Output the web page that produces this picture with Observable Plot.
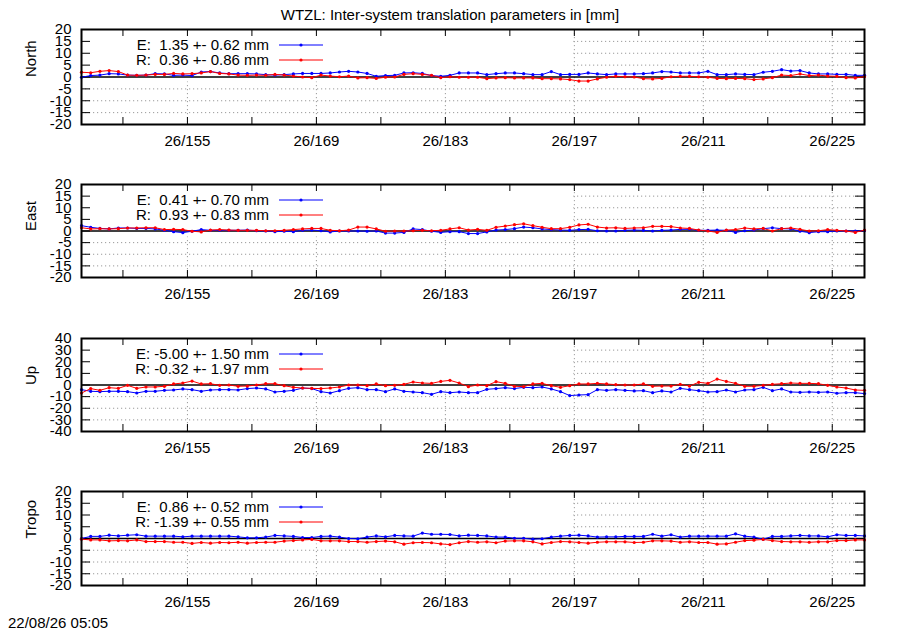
<!DOCTYPE html>
<html><head><meta charset="utf-8">
<script src="https://cdn.jsdelivr.net/npm/d3@7"></script>
<script src="https://cdn.jsdelivr.net/npm/@observablehq/plot@0.6"></script>
<style>
body{margin:0;background:#fff;font-family:"Liberation Sans",Arial,sans-serif;}
#wrap{position:relative;width:900px;height:630px;overflow:hidden;background:#fff;}
#wrap svg{position:absolute;left:0;}
#title{position:absolute;top:6px;left:0;width:900px;text-align:center;font-size:15px;line-height:17px;}
#stamp{position:absolute;left:8px;top:614px;font-size:15px;line-height:17px;}
</style></head><body>
<div id="wrap"><div id="title">WTZL: Inter-system translation parameters in [mm]</div><div id="stamp">22/08/26 05:05</div></div>
<script>
// day of year (2026), daily solutions at noon
const days = [143.5,144.5,145.5,146.5,147.5,148.5,149.5,150.5,151.5,152.5,153.5,154.5,155.5,156.5,157.5,158.5,159.5,160.5,161.5,162.5,163.5,164.5,165.5,166.5,167.5,168.5,169.5,170.5,171.5,172.5,173.5,174.5,175.5,176.5,177.5,178.5,179.5,180.5,181.5,182.5,183.5,184.5,185.5,186.5,187.5,188.5,189.5,190.5,191.5,192.5,193.5,194.5,195.5,196.5,197.5,198.5,199.5,200.5,201.5,202.5,203.5,204.5,205.5,206.5,207.5,208.5,209.5,210.5,211.5,212.5,213.5,214.5,215.5,216.5,217.5,218.5,219.5,220.5,221.5,222.5,223.5,224.5,225.5,226.5,227.5,228.5];
const xDomain = [143.5, 228.5];
const xTicks = [148,155,162,169,176,183,190,197,204,211,218,225];
const xLabelTicks = [155,169,183,197,211,225];
const yTicks20 = [-20,-15,-10,-5,0,5,10,15,20];
const yTicks40 = [-40,-30,-20,-10,0,10,20,30,40];

const panelNames = ["North","East","Up","Tropo"];

const northE = [-0.1,0.6,0.8,1.4,1.3,0.8,0.7,0.8,1.4,1.3,0.7,0.8,0.6,2.1,2.3,1.7,1.4,1.4,1.4,1.3,1.0,0.8,1.0,1.3,1.5,1.5,1.5,1.7,2.1,2.4,2.1,1.5,0.3,0.6,0.7,1.7,1.8,1.5,0.6,
 0.3,0.7,1.7,1.7,1.7,1.0,1.4,1.7,1.7,1.4,1.0,1.0,2.3,1.0,1.1,1.1,1.7,1.3,1.0,1.3,1.3,1.3,1.4,1.7,2.3,2.1,1.7,1.7,1.7,2.4,1.0,1.0,1.3,1.1,1.0,2.0,2.4,3.1,2.5,2.7,1.7,1.3,1.3,1.1,1.1,0.7,0.7];
const northR = [2.0,1.8,2.4,2.7,2.3,0.8,0.7,0.8,1.1,1.1,1.5,1.3,1.4,1.7,2.3,1.5,1.3,0.8,0.7,0.8,0.7,1.1,0.8,0.4,0.0,-0.3,0.8,0.4,0.1,0.4,-0.4,-0.3,-0.6,-0.1,0.0,1.1,1.4,1.1,0.7,
 -0.3,0.1,-0.1,-0.1,-0.1,-0.7,-0.4,-0.3,-0.4,-0.4,-0.4,-0.7,-0.7,-0.8,-1.1,-1.7,-1.7,-0.8,-0.1,0.3,0.1,0.0,-0.7,-0.8,-0.6,0.1,0.3,0.3,0.1,-0.1,-0.6,-0.7,-0.6,-0.7,-1.1,-0.8,-0.3,0.8,0.6,1.3,0.6,0.8,0.4,0.3,-0.3,-0.4,0.1];
const eastE = [2.3,1.6,1.1,0.9,1.3,1.3,1.1,1.1,0.9,0.3,-0.3,-0.7,-0.1,0.6,0.3,0.3,0.3,0.3,0.4,0.1,0.0,-0.3,-0.1,-0.3,0.3,0.4,0.1,-0.4,0.0,0.0,0.0,-0.1,0.0,-0.9,-0.9,-0.6,0.9,0.6,-0.1,
 -0.6,-0.3,-0.3,-1.1,-1.1,-0.4,0.4,0.6,1.0,1.7,1.4,0.9,0.6,0.4,0.3,0.6,0.7,0.1,0.0,0.0,0.3,0.4,0.3,0.0,0.3,0.4,0.7,0.7,0.3,0.3,0.4,0.3,-0.6,0.1,0.4,1.0,1.4,1.0,0.9,-0.1,-0.7,-0.3,-0.3,0.0,0.0,0.0,0.1];
const eastR = [1.4,0.9,1.0,0.9,1.0,1.3,1.3,1.4,1.4,0.6,0.7,0.6,-0.1,-0.4,0.4,0.6,0.4,0.3,0.3,0.3,0.1,0.1,0.3,0.6,0.9,1.1,1.1,0.3,0.1,0.4,1.7,1.7,0.9,-0.1,0.0,0.0,0.1,0.3,0.1,
 0.3,0.9,1.4,0.4,0.7,0.3,1.6,2.1,2.7,3.1,2.3,1.6,1.0,1.0,1.6,2.6,2.9,1.7,1.3,1.4,1.1,1.3,1.4,2.0,2.0,1.9,1.3,1.1,0.4,0.0,-0.6,0.4,0.6,1.3,0.9,1.1,0.0,1.0,1.3,0.7,0.0,0.1,0.6,0.3,0.0,-0.6,0.4];
const upE = [-4.0,-5.4,-5.7,-5.4,-5.4,-5.7,-6.9,-5.4,-5.4,-4.6,-4.3,-3.4,-4.0,-5.4,-4.3,-4.0,-4.0,-4.3,-3.1,-2.6,-3.4,-6.0,-5.4,-4.6,-2.6,-3.1,-5.7,-6.9,-4.9,-2.9,-2.3,-4.0,-4.0,-5.7,-3.4,-5.4,-6.0,-6.6,-8.0,
 -5.7,-6.6,-6.0,-6.6,-6.6,-3.7,-3.1,-2.3,-3.1,-2.0,-2.3,-1.7,-3.4,-5.7,-9.1,-8.6,-8.3,-4.0,-4.6,-4.0,-4.6,-5.1,-4.9,-6.6,-5.1,-6.0,-2.9,-4.0,-4.9,-6.0,-5.7,-4.3,-6.0,-4.3,-4.0,-2.0,-4.9,-3.4,-6.0,-6.3,-6.0,-6.3,-6.0,-7.1,-6.6,-6.6,-7.4];
const upR = [-6.9,-3.1,-4.6,-2.3,-2.9,-0.3,-2.9,-1.7,-1.7,-1.1,0.9,1.7,3.4,0.9,1.1,-0.3,0.0,-1.1,-0.9,0.0,1.1,1.1,-0.6,-2.0,-2.6,-2.9,-3.1,-2.6,-1.7,0.0,0.0,-0.6,0.9,-0.6,-0.3,0.6,2.6,1.7,1.4,
 3.1,4.0,1.7,-1.4,0.0,-0.6,2.9,1.4,-1.1,-1.4,0.9,1.4,-0.6,-2.0,-0.6,0.9,0.9,1.4,0.9,0.3,0.0,0.0,0.9,-1.1,-0.9,-0.9,0.6,-0.9,2.3,1.4,5.1,3.1,1.4,-1.1,-1.1,-0.3,0.6,1.1,1.7,1.4,1.4,1.1,-0.3,-1.7,-2.6,-4.3,-4.6];
const tropoE = [0.0,0.9,0.9,1.4,1.1,1.4,1.6,1.0,1.0,1.0,1.0,0.7,1.0,1.0,1.0,1.0,1.0,0.7,0.3,0.3,0.6,1.3,1.1,0.9,0.4,0.4,0.9,1.0,0.6,0.0,-0.1,0.6,1.1,0.7,1.3,1.1,1.0,2.3,1.8,
 1.8,1.7,1.1,1.4,1.3,1.1,0.6,0.6,0.1,0.1,-0.3,-0.1,0.6,1.0,1.3,1.4,1.1,0.6,0.7,0.7,0.9,0.9,0.9,1.8,1.0,1.6,0.6,1.0,1.0,1.0,1.0,1.0,2.0,1.0,0.6,-0.3,0.9,0.9,1.1,1.3,1.1,1.1,0.7,1.6,1.3,1.3,1.1];
const tropoR = [-0.3,-0.6,-0.6,-1.0,-0.9,-1.0,-0.6,-1.3,-1.3,-1.3,-1.6,-1.6,-2.1,-1.7,-2.0,-1.7,-1.8,-1.6,-2.0,-1.7,-1.6,-1.6,-1.1,-0.9,-0.6,-0.4,-1.0,-1.0,-1.0,-1.3,-1.3,-1.6,-1.3,-1.1,-1.4,-2.4,-1.8,-1.7,-1.8,
 -2.3,-2.6,-1.8,-1.3,-1.6,-1.4,-1.8,-1.1,-1.0,-1.0,-1.4,-2.3,-1.7,-1.3,-1.4,-1.7,-2.0,-1.6,-1.4,-1.4,-1.4,-1.7,-1.6,-1.0,-1.0,-1.1,-1.6,-1.4,-1.7,-1.7,-2.4,-2.3,-1.6,-0.9,-0.7,-0.4,-0.9,-1.3,-1.4,-1.4,-1.6,-1.4,-1.4,-0.9,-0.9,-0.6,-0.6];

// legend statistics (mean +- sigma, mm)
const meanE = [1.35, 0.41, -5.00, 0.86];
const sigE  = [0.62, 0.70, 1.50, 0.52];
const meanR = [0.36, 0.93, -0.32, -1.39];
const sigR  = [0.86, 0.83, 1.97, 0.55];

const seriesE = [northE, eastE, upE, tropoE];
const seriesR = [northR, eastR, upR, tropoR];
const yTickSets = [yTicks20, yTicks20, yTicks40, yTicks20];

// layout (pixels)
const plotTops = [29, 184, 338, 491];
const plotHeights = [95, 93, 93, 94];
const ML = 81, MR = 36, MT = 20, MB = 30, WIDTH = 900;
const BLUE = "#0000ff", RED = "#ff0000";

const fmt = (lab, m, s) => `${lab}: ${m < 0 ? "" : " "}${m.toFixed(2)} +- ${s.toFixed(2)} mm`;

const wrap = document.getElementById("wrap");

for (let i = 0; i < 4; i++) {
  const H = plotHeights[i];
  const yt = yTickSets[i];
  const yl = yt[yt.length - 1];
  const inner = yt.filter(v => Math.abs(v) < yl && v !== 0);
  const W = WIDTH - ML - MR;
  const rows = days.map((d, k) => ({d, e: seriesE[i][k], r: seriesR[i][k]}));
  const keyW = (xLabelTicks[3] - xDomain[0]) / (xDomain[1] - xDomain[0]) * W;
  const grid = {stroke: "#9a9a9a", strokeDasharray: "1.2,2.8", strokeWidth: 1};
  const plot = Plot.plot({
    width: WIDTH, height: MT + H + MB,
    marginTop: MT, marginBottom: MB, marginLeft: ML, marginRight: MR,
    style: {fontFamily: "'Liberation Sans', Arial, sans-serif", fontSize: "15px", background: "transparent", overflow: "visible", color: "black"},
    x: {domain: xDomain},
    y: {domain: [-yl, yl]},
    marks: [
      Plot.ruleY(inner, grid),
      Plot.ruleX(xLabelTicks, grid),
      Plot.frame({fill: "white", stroke: null, insetRight: W - keyW + 1, insetBottom: H - 52}),
      Plot.ruleY([0], {stroke: "black", strokeWidth: 1.5}),
      Plot.tickY(yt, {insetRight: W - 9, stroke: "black"}),
      Plot.tickY(yt, {insetLeft: W - 9, stroke: "black"}),
      Plot.tickX(xTicks, {insetTop: H - 7, stroke: "black"}),
      Plot.tickX(xTicks, {insetBottom: H - 7, stroke: "black"}),
      Plot.line(rows, {x: "d", y: "e", stroke: BLUE, strokeWidth: 1}),
      Plot.dot(rows, {x: "d", y: "e", r: 1.6, fill: BLUE, stroke: null}),
      Plot.line(rows, {x: "d", y: "r", stroke: RED, strokeWidth: 1}),
      Plot.dot(rows, {x: "d", y: "r", r: 1.6, fill: RED, stroke: null}),
      Plot.frame({stroke: "black", strokeWidth: 2}),
      Plot.axisX(xLabelTicks, {tickSize: 0, tickPadding: 11, tickFormat: d => `26/${d}`, label: null}),
      Plot.axisY(yt, {tickSize: 0, tickPadding: 10, tickFormat: d => `${d}`, label: null}),
      Plot.text([panelNames[i]], {frameAnchor: "left", dx: -50, rotate: -90, fontSize: 15, fill: "black"})
    ]
  });
  plot.style.top = (plotTops[i] - MT) + "px";
  // key (legend)
  const svg = d3.select(plot);
  const g = svg.append("g").attr("font-size", 15).attr("font-family", "'Liberation Sans', Arial, sans-serif");
  const entries = [[fmt("E", meanE[i], sigE[i]), BLUE], [fmt("R", meanR[i], sigR[i]), RED]];
  entries.forEach(([label, col], j) => {
    const y = MT + 16 + j * 15;
    g.append("text").attr("x", 269).attr("y", y).attr("dy", "0.35em")
      .attr("text-anchor", "end").style("white-space", "pre").attr("fill", "black").text(label);
    g.append("line").attr("x1", 279).attr("x2", 323).attr("y1", y).attr("y2", y)
      .attr("stroke", col).attr("stroke-width", 1);
    g.append("circle").attr("cx", 301).attr("cy", y).attr("r", 1.6).attr("fill", col);
  });
  wrap.appendChild(plot);
}
</script>
</body></html>
